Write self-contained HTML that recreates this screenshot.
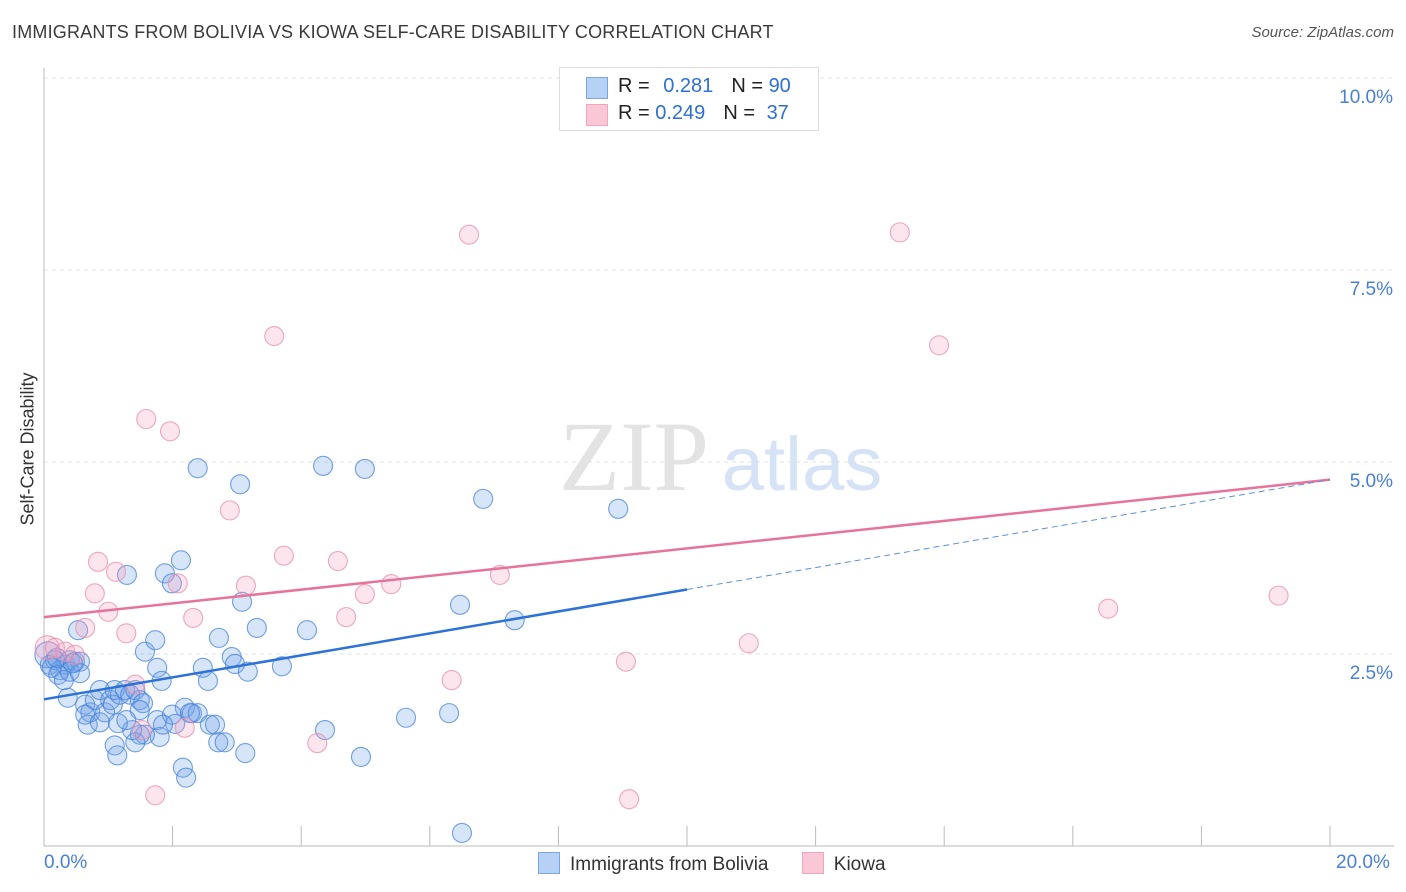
<!DOCTYPE html>
<html><head><meta charset="utf-8"><style>
body{margin:0;background:#fff;font-family:"Liberation Sans",sans-serif;}
#wrap{position:relative;width:1406px;height:892px;overflow:hidden;}
.t{position:absolute;white-space:nowrap;}
</style></head><body>
<div id="wrap">
<div class="t" style="left:12px;top:22px;font-size:18px;color:#3a3a3a;letter-spacing:0.2px">IMMIGRANTS FROM BOLIVIA VS KIOWA SELF-CARE DISABILITY CORRELATION CHART</div>
<div class="t" style="right:12px;top:24px;font-size:15px;color:#555;font-style:italic">Source: ZipAtlas.com</div>
<svg id="plot" width="1406" height="892" style="position:absolute;left:0;top:0"></svg>
</div>
<script>
const blueX=[0.06,0.09,0.17,0.25,0.33,0.40,0.48,0.56,0.12,0.22,0.31,0.40,0.53,0.56,0.37,0.64,0.72,0.79,0.87,0.68,0.64,0.87,0.95,1.03,1.07,1.10,1.18,1.26,1.34,1.42,1.49,1.54,1.29,1.57,1.73,1.76,1.83,1.88,1.99,2.13,1.76,1.80,1.57,1.49,1.42,1.37,1.15,1.10,1.14,1.28,1.49,2.04,2.19,2.30,2.39,2.47,2.55,2.58,2.66,2.72,2.71,2.81,2.92,2.97,3.08,3.13,3.17,3.05,2.39,2.16,2.21,3.31,3.70,4.09,4.37,4.34,4.93,4.99,5.63,6.30,6.47,6.50,6.83,7.32,8.93,1.99,1.85,2.27,0.20,0.45];
const blueY=[2.49,2.36,2.42,2.29,2.36,2.42,2.40,2.40,2.32,2.23,2.16,2.27,2.81,2.25,1.93,1.84,1.74,1.90,2.03,1.58,1.71,1.61,1.74,1.90,1.84,2.03,1.97,2.03,1.97,2.03,1.90,1.86,3.53,2.53,2.68,2.32,2.15,3.55,3.42,3.72,1.64,1.42,1.45,1.45,1.35,1.51,1.60,1.31,1.18,1.64,1.77,1.59,1.80,1.73,1.73,2.32,2.15,1.58,1.58,2.71,1.35,1.35,2.46,2.37,3.18,1.21,2.27,4.71,4.92,1.02,0.89,2.84,2.34,2.81,1.51,4.95,1.16,4.91,1.67,1.73,3.14,0.17,4.52,2.94,4.39,1.71,1.58,1.73,2.45,2.38];
const pinkX=[0.05,0.17,0.33,0.48,0.64,0.79,0.84,1.00,1.12,1.28,1.42,1.52,1.59,1.73,1.96,2.08,2.19,2.32,2.89,3.14,3.58,3.73,4.25,4.57,4.70,4.99,5.40,6.34,6.61,7.09,9.05,9.10,10.96,13.31,13.92,16.55,19.20];
const pinkY=[2.58,2.58,2.53,2.49,2.84,3.29,3.70,3.05,3.57,2.77,2.10,1.51,5.56,0.66,5.40,3.42,1.54,2.97,4.37,3.39,6.64,3.78,1.34,3.71,2.98,3.28,3.41,2.16,7.96,3.53,2.40,0.61,2.64,7.99,6.52,3.09,3.26];
const blueFit=[1.91,0.1430];
const pinkFit=[2.98,0.0895];
const yTicks=[2.5,5.0,7.5,10.0];
const yTickLabels=["2.5%","5.0%","7.5%","10.0%"];

const X0=44,X1=1330,Y0=846,PER=76.8;
const sx=v=>X0+(v/20)*(X1-X0);
const sy=v=>Y0-v*PER;
const svg=document.getElementById('plot');
const NS='http://www.w3.org/2000/svg';
function mk(tag,attrs){const e=document.createElementNS(NS,tag);for(const k in attrs)e.setAttribute(k,attrs[k]);svg.appendChild(e);return e;}

for(let i=0;i<yTicks.length;i++){
  const g=mk('line',{x1:X0,x2:1394,y1:sy(yTicks[i]),y2:sy(yTicks[i]),stroke:'#e2e2e2','stroke-dasharray':'4,4'});
  
  
  const t=mk('text',{x:1393,y:sy(yTicks[i])+25,'text-anchor':'end','font-size':19,fill:'#4a7fd6','font-family':'Liberation Sans, sans-serif'});
  t.textContent=yTickLabels[i];
  
  
}
let a=mk('line',{x1:X0,x2:X0,y1:68,y2:Y0,stroke:'#bbb'});


a=mk('line',{x1:X0,x2:1394,y1:Y0,y2:Y0,stroke:'#bbb'});


for(let i=0;i<=10;i++){
  const tk=mk('line',{x1:sx(i*2),x2:sx(i*2),y1:826,y2:Y0,stroke:'#bbb'});
  
  
}
let w=mk('text',{x:634,y:490,'text-anchor':'middle','font-size':100,fill:'#e3e3e3','font-family':'Liberation Serif, serif'});
w.textContent='ZIP';


w=mk('text',{x:802,y:490,'text-anchor':'middle','font-size':76,fill:'#d6e2f5','font-family':'Liberation Sans, sans-serif'});
w.textContent='atlas';



for(let i=0;i<blueX.length;i++){
  const c=mk('circle',{cx:sx(blueX[i]),cy:sy(blueY[i]),r:(i===0?13:9.5),fill:'rgba(110,160,230,0.28)',stroke:'rgba(70,130,220,0.75)','stroke-width':1.1});
  
  
}
for(let i=0;i<pinkX.length;i++){
  const c=mk('circle',{cx:sx(pinkX[i]),cy:sy(pinkY[i]),r:(i===0?12:9.5),fill:'rgba(245,160,190,0.28)',stroke:'rgba(232,140,172,0.75)','stroke-width':1.1});
  
  
}
let l=mk('line',{x1:sx(0),y1:sy(pinkFit[0]),x2:sx(20),y2:sy(pinkFit[0]+pinkFit[1]*20),stroke:'#e8739a','stroke-width':2.5});


l=mk('line',{x1:sx(0),y1:sy(blueFit[0]),x2:sx(10),y2:sy(blueFit[0]+blueFit[1]*10),stroke:'#2d72d9','stroke-width':2.5});


l=mk('line',{x1:sx(10),y1:sy(blueFit[0]+blueFit[1]*10),x2:sx(20),y2:sy(blueFit[0]+blueFit[1]*20),stroke:'#5b8fdc','stroke-width':1,'stroke-dasharray':'6,4'});


</script>
<div class="t" style="left:-42px;top:445px;transform:rotate(-90deg);font-size:18px;color:#333;width:140px;text-align:center">Self-Care Disability</div>
<div class="t" style="left:44px;top:852px;font-size:19px;color:#4a7fd6">0.0%</div>
<div class="t" style="left:1336px;top:852px;font-size:19px;color:#4a7fd6">20.0%</div>
<div style="position:absolute;left:559px;top:67px;width:258px;height:62px;border:1px solid #ddd;background:#fff;font-size:20px;color:#222">
 <div style="position:absolute;left:26px;top:9px;width:20px;height:20px;background:#b7d0f5;border:1px solid #7aa6e6"></div>
 <div class="t" style="left:58px;top:7px">R = <span style="color:#2d6fd6;margin-left:8px">0.281</span><span style="margin-left:18px">N = </span><span style="color:#2d6fd6">90</span></div>
 <div style="position:absolute;left:26px;top:36px;width:20px;height:20px;background:#f9c7d6;border:1px solid #eea5bd"></div>
 <div class="t" style="left:58px;top:34px">R = <span style="color:#2d6fd6">0.249</span><span style="margin-left:18px">N = </span><span style="color:#2d6fd6;margin-left:6px">37</span></div>
</div>
<div style="position:absolute;left:538px;top:852px;font-size:19px;color:#333;white-space:nowrap">
 <span><span style="display:inline-block;width:20px;height:20px;background:#b7d0f5;border:1px solid #7aa6e6;vertical-align:-4px;margin-right:10px"></span>Immigrants from Bolivia</span>
 <span style="margin-left:28px"><span style="display:inline-block;width:20px;height:20px;background:#f9c7d6;border:1px solid #eea5bd;vertical-align:-4px;margin-right:10px"></span>Kiowa</span>
</div>
</body></html>
